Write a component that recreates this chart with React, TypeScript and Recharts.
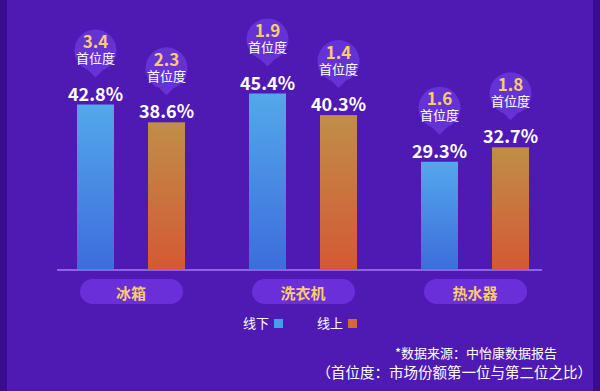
import { BarChart, Bar, XAxis, YAxis } from 'recharts';

const categories = ['冰箱', '洗衣机', '热水器'];
const offlineShare = [42.8, 45.4, 29.3];
const onlineShare = [38.6, 40.3, 32.7];
const offlineRatio = [3.4, 1.9, 1.6];
const onlineRatio = [2.3, 1.4, 1.8];
const seriesNames = ['线下', '线上'];

const data = categories.map((name, i) => ({
  name,
  offline: offlineShare[i],
  online: onlineShare[i],
  offlineRatio: offlineRatio[i],
  onlineRatio: onlineRatio[i],
}));

const FONT = '"Noto Sans CJK SC", "Noto Sans", sans-serif';
const BG = '#4f1ab4';
const GOLD = '#f8cc6c';
const SWATCH = ['#4a9be8', '#cf6a3a'];

const makeShape = (valueKey: string, ratioKey: string) => (props: any) => {
  const { x, y, width, height, fill, payload } = props;
  const cx = x + width / 2;
  const cy = y - 54;
  return (
    <g>
      <rect x={x} y={y} width={width} height={height} fill={fill} />
      <circle cx={cx} cy={cy} r={21} fill="#6532d6" />
      <polygon
        points={`${cx - 9},${cy + 18} ${cx + 9},${cy + 18} ${cx},${cy + 27}`}
        fill="#6532d6"
      />
      <text x={cx} y={cy - 10} textAnchor="middle" dominantBaseline="central"
        fill={GOLD} fontSize={17} fontWeight={700} fontFamily={FONT}>
        {payload[ratioKey]}
      </text>
      <text x={cx} y={cy + 7} textAnchor="middle" dominantBaseline="central"
        fill="#ffffff" fontSize={13} fontFamily={FONT}>
        首位度
      </text>
      <text x={cx} y={y - 12} textAnchor="middle" dominantBaseline="central"
        fill="#ffffff" fontSize={18} fontWeight={700} fontFamily={FONT}>
        {`${payload[valueKey]}%`}
      </text>
    </g>
  );
};

const PillTick = ({ x, y, payload }: any) => (
  <g>
    <rect x={x - 51} y={y + 10} width={103} height={25} rx={12.5} fill="#6a2fd9" />
    <text x={x} y={y + 23} textAnchor="middle" dominantBaseline="central"
      fill={GOLD} fontSize={15} fontWeight={700} fontFamily={FONT}>
      {payload.value}
    </text>
  </g>
);

const legendLeft = [243, 317];

export default function App() {
  return (
    <div style={{ position: 'relative', width: 600, height: 391, background: BG, overflow: 'hidden' }}>
      <style>{`body{margin:0}`}</style>
      <div style={{ position: 'absolute', left: 0, top: 0, width: 7, height: 391, background: '#3a0d8e' }} />
      <div style={{ position: 'absolute', right: 0, top: 0, width: 7, height: 391, background: '#3a0d8e' }} />
      <BarChart
        width={600}
        height={391}
        data={data}
        margin={{ top: 74, right: 39, bottom: 82, left: 45 }}
        barGap={34}
        style={{ position: 'absolute', left: 0, top: 0 }}
      >
        <defs>
          <linearGradient id="gBlue" x1="0" y1="0" x2="0" y2="1">
            <stop offset="0%" stopColor="#53a8ea" />
            <stop offset="100%" stopColor="#3e6cdc" />
          </linearGradient>
          <linearGradient id="gOrange" x1="0" y1="0" x2="0" y2="1">
            <stop offset="0%" stopColor="#c08e49" />
            <stop offset="100%" stopColor="#d45933" />
          </linearGradient>
        </defs>
        <XAxis dataKey="name" axisLine={false} tickLine={false} tickSize={0} tickMargin={0}
          tick={<PillTick />} interval={0} height={40} />
        <YAxis hide domain={[4, 50]} />
        <Bar dataKey="offline" name={seriesNames[0]} fill="url(#gBlue)" barSize={37}
          shape={makeShape('offline', 'offlineRatio')} isAnimationActive={false} />
        <Bar dataKey="online" name={seriesNames[1]} fill="url(#gOrange)" barSize={37}
          shape={makeShape('online', 'onlineRatio')} isAnimationActive={false} />
      </BarChart>
      <div style={{ position: 'absolute', left: 57, top: 269, width: 485, height: 2, background: '#8d62e6' }} />
      {seriesNames.map((name, i) => (
        <div key={name} style={{
          position: 'absolute', left: legendLeft[i], top: 313, display: 'flex',
          alignItems: 'center', color: '#fff', fontSize: 13, fontFamily: FONT, lineHeight: '20px',
        }}>
          <span>{name}</span>
          <span style={{
            display: 'inline-block', width: 9, height: 9, marginLeft: 5, background: SWATCH[i],
          }} />
        </div>
      ))}
      <div style={{
        position: 'absolute', right: 43, top: 343, color: '#fff', fontSize: 13,
        fontFamily: FONT, whiteSpace: 'nowrap', lineHeight: '20px',
      }}>*数据来源：中怡康数据报告</div>
      <div style={{
        position: 'absolute', right: 8, top: 362, color: '#fff', fontSize: 14.5,
        fontFamily: FONT, whiteSpace: 'nowrap', lineHeight: '20px',
      }}>（首位度：市场份额第一位与第二位之比）</div>
    </div>
  );
}
